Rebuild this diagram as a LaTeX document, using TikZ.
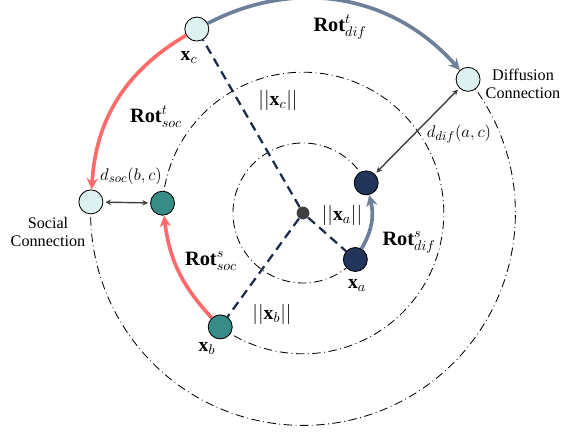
\documentclass[tikz,border=0pt]{standalone}
\usepackage{fontspec}
\setmainfont{Liberation Serif}
\usetikzlibrary{arrows.meta,positioning,calc}
\definecolor{entLight}{HTML}{DDF2F0}
\definecolor{entTeal}{HTML}{378C87}
\definecolor{entNavy}{HTML}{22355A}
\definecolor{entCore}{HTML}{404040}
\definecolor{rotSoc}{HTML}{FF6B6B}
\definecolor{rotDif}{HTML}{6E7F99}
\definecolor{normcol}{HTML}{1C2B4A}
\definecolor{distcol}{HTML}{404040}

\begin{document}
\begin{tikzpicture}[font=\fontsize{11.5}{13}\selectfont,
  ent/.style={circle,draw=black,line width=0.6pt,minimum size=0.6cm,inner sep=0pt},
  ring/.style={line width=0.6pt,dash pattern=on 6pt off 2.5pt on 0.6pt off 2.5pt},
  normdash/.style={normcol,line width=1.6pt,dash pattern=on 6.5pt off 4pt},
  rotarrow/.style={line width=2.6pt,-{Stealth[length=8pt,width=8pt]}},
  distarrow/.style={distcol,line width=1pt,{Stealth[length=4pt,width=4pt]}-{Stealth[length=4pt,width=4pt]},
    shorten <=1.5pt,shorten >=1.5pt},
  rotlabel/.style={font=\fontsize{14.5}{16}\selectfont},
  veclabel/.style={font=\fontsize{14}{16}\selectfont},
  dlabel/.style={font=\fontsize{12.5}{14}\selectfont}]
  \useasboundingbox (-7.575,-5.55) rectangle (6.55,5.325);

  % rings
  \draw[ring] (25.5:1.75) arc[start angle=25.5,end angle=318.4,radius=1.75];
  \draw[ring] (176:3.52) arc[start angle=176,end angle=-126,radius=3.52];
  \draw[ring] (39:5.31) arc[start angle=39,end angle=-183,radius=5.31];

  % entities
  \node[ent,draw=none,fill=entCore,minimum size=0.32cm] (o) at (0,0) {};
  \node[ent,fill=entNavy] (xa) at (-41.6:1.75) {};
  \node[ent,fill=entNavy] (ra) at (25.5:1.75) {};
  \node[ent,fill=entTeal] (xb) at (234:3.52) {};
  \node[ent,fill=entTeal] (rb) at (176:3.52) {};
  \node[ent,fill=entLight] (xc) at (120:5.31) {};
  \node[ent,fill=entLight] (soc) at (177:5.31) {};
  \node[ent,fill=entLight] (dif) at (39:5.31) {};

  % norms
  \draw[normdash] (o) -- (xa);
  \draw[normdash] (o) -- (xb);
  \draw[normdash] (o) -- (xc);

  % rotations
  \draw[rotarrow,rotDif] (xc) to[bend left=38] (dif);
  \draw[rotarrow,rotSoc] (xc) to[bend right=28] (soc);
  \draw[rotarrow,rotSoc] (xb) to[bend left=18] (rb);
  \draw[rotarrow,rotDif] (xa) to[bend right=22] (ra);

  % distances
  \draw[distarrow] (soc) -- (rb);
  \draw[distarrow] (ra) -- (dif);

  % labels
  \node[veclabel] (lxa) at (1.35,-1.8) {$\mathbf{x}_a$};
  \node[veclabel] (lxb) at (-2.4,-3.375) {$\mathbf{x}_b$};
  \node[veclabel] (lxc) at (-2.85,3.9) {$\mathbf{x}_c$};
  \node[veclabel] (nxa) at (0.975,-0.05) {$||\mathbf{x}_a||$};
  \node[veclabel] (nxb) at (-0.775,-2.525) {$||\mathbf{x}_b||$};
  \node[veclabel] (nxc) at (-0.625,2.825) {$||\mathbf{x}_c||$};
  \node[rotlabel] (rtd) at (0.925,4.65) {$\mathbf{Rot}^{t}_{dif}$};
  \node[rotlabel] (rts) at (-3.675,2.4) {$\mathbf{Rot}^{t}_{soc}$};
  \node[rotlabel] (rss) at (-2.3,-1.2) {$\mathbf{Rot}^{s}_{soc}$};
  \node[rotlabel] (rsd) at (2.65,-0.725) {$\mathbf{Rot}^{s}_{dif}$};
  \node[dlabel] (dsoc) at (-4.3,0.925) {$d_{soc}(b,c)$};
  \node[dlabel] (ddif) at (3.9,1.975) {$d_{dif}(a,c)$};
  \node[align=center] (lsoc) at (-6.375,-0.475) {Social\\Connection};
  \node[align=center] (ldif) at (5.5,3.225) {Diffusion\\Connection};
\end{tikzpicture}
\end{document}
